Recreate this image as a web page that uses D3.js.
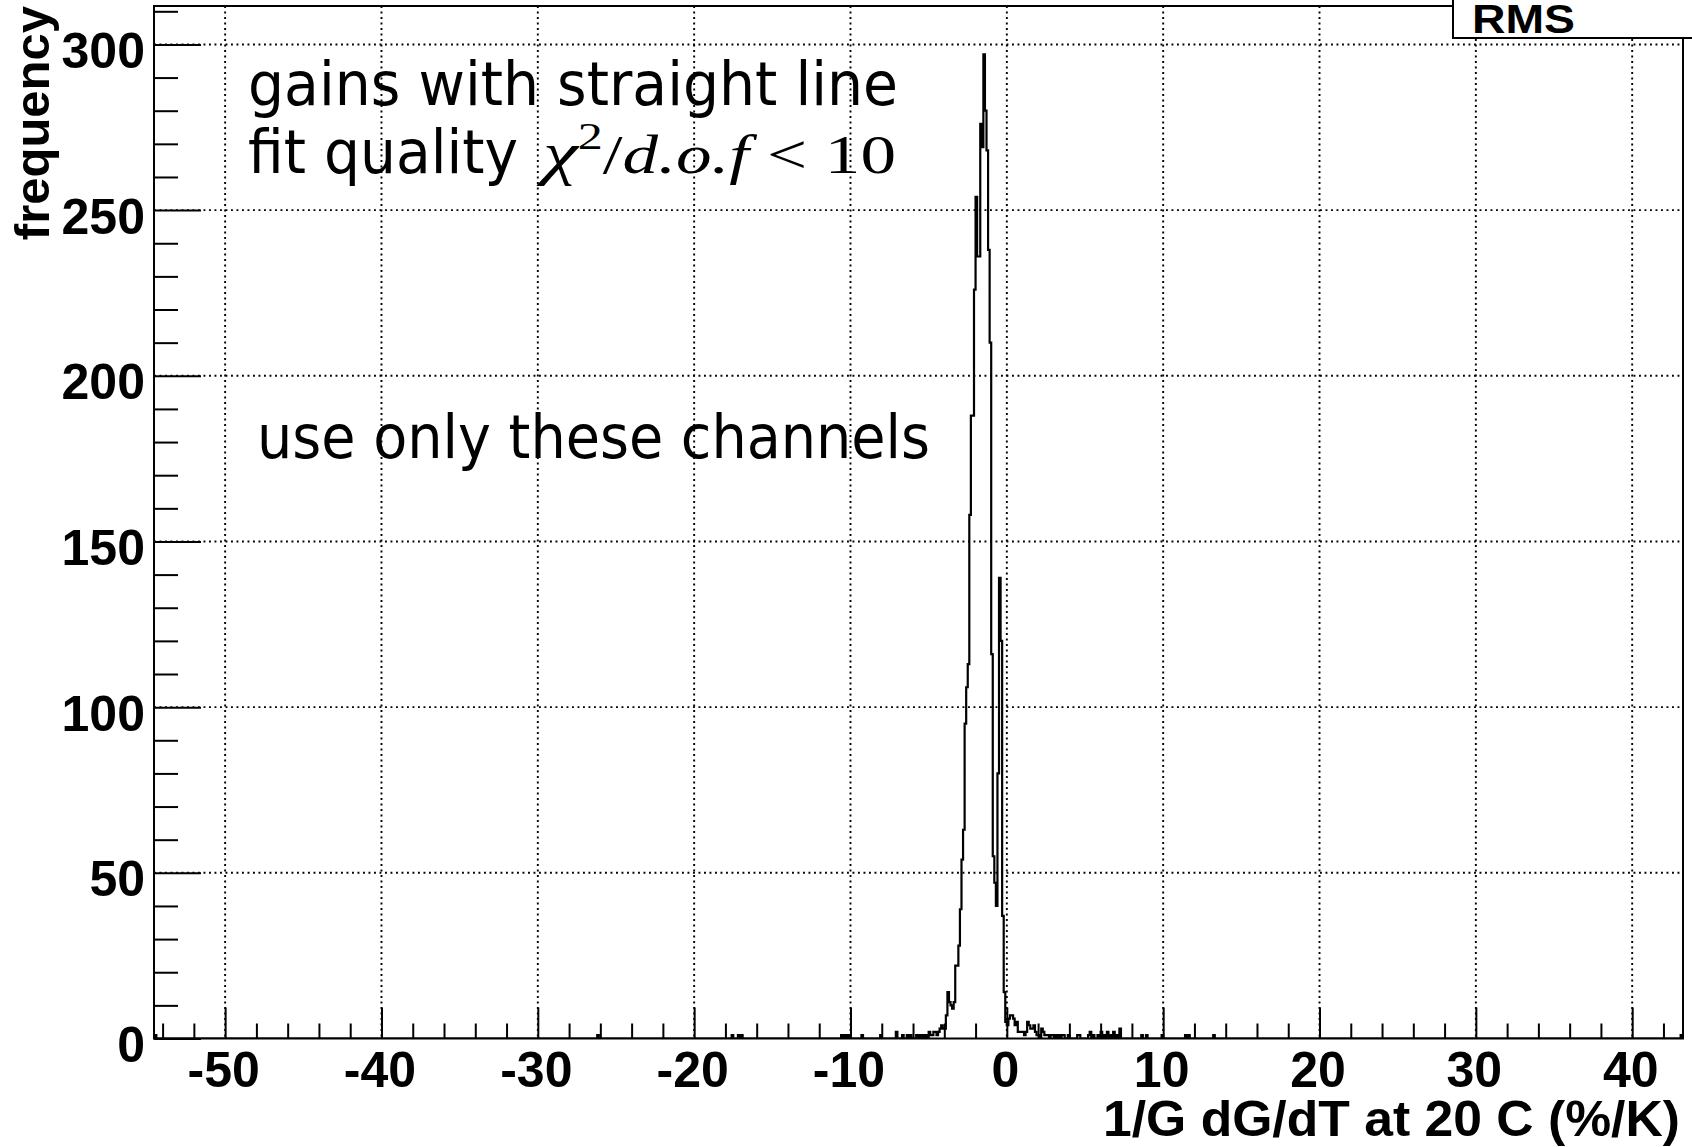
<!DOCTYPE html>
<html lang="en">
<head>
<meta charset="UTF-8">
<title>1/G dG/dT at 20 C</title>
<script src="https://cdnjs.cloudflare.com/ajax/libs/d3/7.8.5/d3.min.js"></script>
<style>
    body { margin: 0; background: #fff; }
    svg { display: block; background: #fff; }
    .axis-text {
        font-family: "Liberation Sans", Arial, sans-serif;
        font-weight: bold;
        font-size: 50px;
        fill: #000;
    }
    .grid line {
        stroke: #000;
        stroke-width: 1.9;
        stroke-dasharray: 1.9, 3.6;
    }
    .note {
        font-family: "DejaVu Sans", sans-serif;
        font-size: 60px;
        fill: #000;
    }
    .math {
        font-family: "Liberation Serif", serif;
        font-size: 54px;
        fill: #000;
    }
</style>
</head>
<body>
<div id="chart"></div>
<script>
    // histogram binning
    const binWidth = 0.1;

    // consecutive bins around the peak, first bin starts at -5.0
    const peakStart = -5.0;
    const peakCounts = [
        2, 1, 1, 2, 2, 1, 2, 3, 4, 3,
        3, 7, 14, 11, 10, 9, 11, 22, 22, 28,
        39, 54, 63, 95, 106, 113, 158, 188, 188, 226,
        254, 236, 236, 276, 269, 297, 280, 268, 238, 210,
        116, 55, 47, 40, 80, 139, 120, 37, 14, 5,
        4, 6, 7, 7, 6, 4, 5, 2, 2, 2,
        2, 1, 2, 5, 4, 3, 3, 4, 2, 1,
        1, 0, 3, 2, 1, 1, 1, 0, 1, 1
    ];

    // isolated bins in the tails (left edge, count)
    const tailEdges = [-54.5, -26.2, -17.6, -17.2, -17.0, -10.6, -10.4, -10.2, -9.3, -8.1,
        -7.1, -6.7, -6.4, -6.2, -5.8, -5.6, -5.4, -5.2,
        3.1, 3.3, 3.5, 3.6, 3.9, 4.5, 4.6, 5.2, 5.3, 5.5, 5.8, 6.0, 6.2, 6.4, 6.6, 6.8,
        7.0, 7.2, 8.6, 8.9, 9.9, 11.4, 11.6, 13.2, 43.1];
    const tailCounts = [1, 1, 1, 1, 1, 1, 1, 1, 1, 1,
        2, 1, 1, 1, 1, 1, 1, 1,
        1, 1, 1, 1, 1, 1, 1, 1, 2, 1, 1, 2, 1, 2, 1, 2,
        1, 3, 1, 1, 1, 1, 1, 1, 1];

    const xDomain = [-54.55, 43.25];
    const yDomain = [0, 311.6];
    const xMajorTicks = [-50, -40, -30, -20, -10, 0, 10, 20, 30, 40];
    const yMajorTicks = [0, 50, 100, 150, 200, 250, 300];
    const xMinorTicks = d3.range(-54, 44, 2).filter(v => v % 10 !== 0);
    const yMinorTicks = d3.range(0, 311, 10).filter(v => v % 50 !== 0);

    const W = 1692, H = 1147;
    const frame = {left: 154, right: 1683, top: 6, bottom: 1038.5};

    const svg = d3.select("#chart").append("svg")
        .attr("width", W)
        .attr("height", H);

    const x = d3.scaleLinear().domain(xDomain).range([frame.left, frame.right]);
    const y = d3.scaleLinear().domain(yDomain).range([frame.bottom, frame.top]);

    // grid
    const grid = svg.append("g").attr("class", "grid");
    grid.selectAll(".gx").data(xMajorTicks).enter().append("line")
        .attr("x1", d => x(d)).attr("x2", d => x(d))
        .attr("y1", frame.top).attr("y2", frame.bottom);
    grid.selectAll(".gy").data(yMajorTicks.filter(d => d > 0)).enter().append("line")
        .attr("x1", frame.left).attr("x2", frame.right)
        .attr("y1", d => y(d)).attr("y2", d => y(d));

    // build the full bin list
    const counts = new Map();
    peakCounts.forEach((c, i) => counts.set(Math.round(peakStart / binWidth) + i, c));
    tailEdges.forEach((e, i) => counts.set(Math.round(e / binWidth), tailCounts[i]));

    const kMin = Math.floor(xDomain[0] / binWidth);
    const kMax = Math.ceil(xDomain[1] / binWidth);
    const steps = [];
    for (let k = kMin; k <= kMax; k++) {
        steps.push([k * binWidth, counts.get(k) || 0]);
    }

    svg.append("clipPath").attr("id", "frame-clip")
        .append("rect")
        .attr("x", frame.left).attr("y", frame.top - 2)
        .attr("width", frame.right - frame.left)
        .attr("height", frame.bottom - frame.top + 2);

    const line = d3.line()
        .x(d => x(d[0]))
        .y(d => y(d[1]))
        .curve(d3.curveStepAfter);

    svg.append("path")
        .datum(steps)
        .attr("clip-path", "url(#frame-clip)")
        .attr("fill", "none")
        .attr("stroke", "#000")
        .attr("stroke-width", 2.2)
        .attr("d", line);

    // frame
    svg.append("rect")
        .attr("x", frame.left).attr("y", frame.top)
        .attr("width", frame.right - frame.left)
        .attr("height", frame.bottom - frame.top)
        .attr("fill", "none")
        .attr("stroke", "#000")
        .attr("stroke-width", 2);

    // plain hyphen minus like the original, not the unicode minus
    const fmt = d => String(d);

    // x axis ticks (pointing inward) and labels
    const xAxis = svg.append("g")
        .attr("transform", `translate(0,${frame.bottom})`);
    xAxis.call(d3.axisBottom(x).tickValues(xMajorTicks).tickFormat(fmt)
        .tickSizeInner(-31).tickSizeOuter(0).tickPadding(13));
    xAxis.append("g").attr("class", "minor")
        .call(d3.axisBottom(x).tickValues(xMinorTicks).tickSizeInner(-15).tickSizeOuter(0));
    xAxis.selectAll(".domain").remove();
    xAxis.selectAll(".minor text").remove();
    xAxis.selectAll("line").attr("stroke", "#000").attr("stroke-width", 2);
    xAxis.selectAll("text")
        .attr("class", "axis-text")
        .attr("dx", -2)
        .attr("font-family", null).attr("font-size", null);

    // y axis
    const yAxis = svg.append("g")
        .attr("transform", `translate(${frame.left},0)`);
    yAxis.call(d3.axisLeft(y).tickValues(yMajorTicks).tickFormat(fmt)
        .tickSizeInner(-47).tickSizeOuter(0).tickPadding(9));
    yAxis.append("g").attr("class", "minor")
        .call(d3.axisLeft(y).tickValues(yMinorTicks).tickSizeInner(-24).tickSizeOuter(0));
    yAxis.selectAll(".domain").remove();
    yAxis.selectAll(".minor text").remove();
    yAxis.selectAll("line").attr("stroke", "#000").attr("stroke-width", 2);
    yAxis.selectAll("text")
        .attr("class", "axis-text")
        .attr("dy", "0.46em")
        .attr("font-family", null).attr("font-size", null);

    // axis titles
    svg.append("text")
        .attr("class", "axis-text")
        .attr("x", 1680)
        .attr("y", 1136)
        .attr("text-anchor", "end")
        .attr("textLength", 577)
        .attr("lengthAdjust", "spacingAndGlyphs")
        .text("1/G dG/dT at 20 C (%/K)");

    svg.append("text")
        .attr("class", "axis-text")
        .style("font-size", "49px")
        .attr("transform", "translate(49,6) rotate(-90)")
        .attr("text-anchor", "end")
        .text("frequency");

    // stats box, mostly off the top of the picture
    svg.append("rect")
        .attr("x", 1453).attr("y", -20)
        .attr("width", 300).attr("height", 58)
        .attr("fill", "#fff")
        .attr("stroke", "#000")
        .attr("stroke-width", 2);
    svg.append("text")
        .attr("class", "axis-text")
        .style("font-size", "41px")
        .attr("x", 1472).attr("y", 33)
        .attr("textLength", 103)
        .attr("lengthAdjust", "spacingAndGlyphs")
        .text("RMS");

    // annotations
    svg.append("text")
        .attr("class", "note")
        .attr("x", 248).attr("y", 105)
        .attr("textLength", 650)
        .attr("lengthAdjust", "spacingAndGlyphs")
        .text("gains with straight line");

    svg.append("text")
        .attr("class", "note")
        .attr("x", 248).attr("y", 173)
        .attr("textLength", 270)
        .attr("lengthAdjust", "spacingAndGlyphs")
        .text("fit quality");

    const math = svg.append("text")
        .attr("class", "math")
        .attr("x", 543).attr("y", 173)
        .attr("textLength", 353)
        .attr("lengthAdjust", "spacingAndGlyphs");
    math.append("tspan").attr("font-style", "italic").style("font-size", "60px").text("χ");
    math.append("tspan").attr("font-size", "38px").attr("dy", -24).text("2");
    math.append("tspan").attr("dy", 24).text("/");
    math.append("tspan").attr("font-style", "italic").text("d.o.f");
    math.append("tspan").text(" < 10");

    svg.append("text")
        .attr("class", "note")
        .attr("x", 257).attr("y", 458)
        .attr("textLength", 673)
        .attr("lengthAdjust", "spacingAndGlyphs")
        .text("use only these channels");
</script>
</body>
</html>
